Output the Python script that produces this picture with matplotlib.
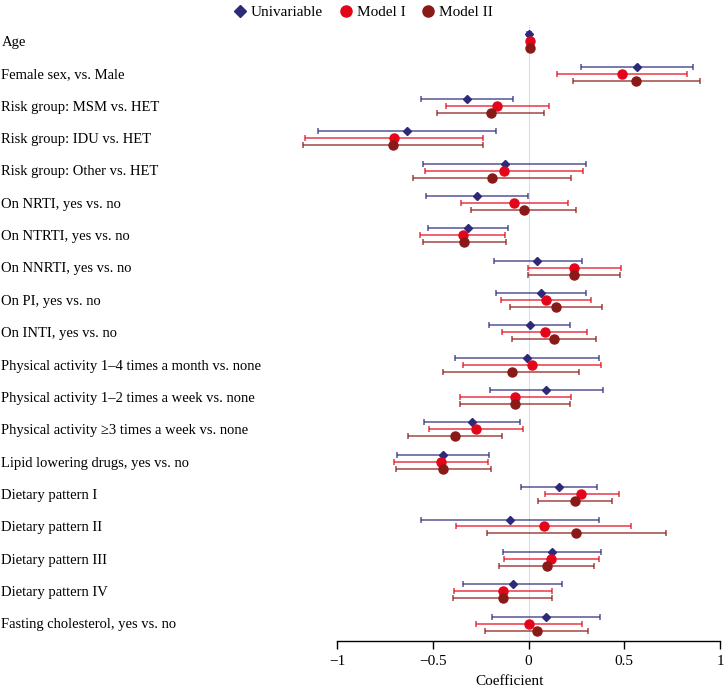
import numpy as np
import matplotlib.pyplot as plt
import matplotlib.transforms as mtransforms
from matplotlib.lines import Line2D

plt.rcParams['font.family'] = ['Liberation Serif', 'DejaVu Serif']

# row labels, top to bottom
labels = [
    "Age",
    "Female sex, vs. Male",
    "Risk group: MSM vs. HET",
    "Risk group: IDU vs. HET",
    "Risk group: Other vs. HET",
    "On NRTI, yes vs. no",
    "On NTRTI, yes vs. no",
    "On NNRTI, yes vs. no",
    "On PI, yes vs. no",
    "On INTI, yes vs. no",
    "Physical activity 1\u20134 times a month vs. none",
    "Physical activity 1\u20132 times a week vs. none",
    "Physical activity \u22653 times a week vs. none",
    "Lipid lowering drugs, yes vs. no",
    "Dietary pattern I",
    "Dietary pattern II",
    "Dietary pattern III",
    "Dietary pattern IV",
    "Fasting cholesterol, yes vs. no",
]

# univariable: estimate, lower, upper
uni_est = [0.00, 0.566, -0.324, -0.636, -0.122, -0.269, -0.319, 0.045, 0.063, 0.005,
           -0.007, 0.092, -0.298, -0.448, 0.158, -0.098, 0.124, -0.084, 0.090]
uni_lo = [-0.01, 0.274, -0.565, -1.100, -0.551, -0.535, -0.527, -0.183, -0.173, -0.206,
          -0.384, -0.202, -0.548, -0.687, -0.040, -0.561, -0.133, -0.345, -0.192]
uni_hi = [0.01, 0.861, -0.084, -0.169, 0.301, -0.002, -0.110, 0.277, 0.300, 0.218,
          0.368, 0.387, -0.047, -0.208, 0.357, 0.369, 0.380, 0.176, 0.375]

# model I
m1_est = [0.005, 0.486, -0.164, -0.706, -0.129, -0.075, -0.345, 0.239, 0.090, 0.084,
          0.019, -0.070, -0.276, -0.460, 0.275, 0.078, 0.118, -0.133, 0.000]
m1_lo = [-0.003, 0.146, -0.434, -1.170, -0.542, -0.356, -0.567, -0.002, -0.145, -0.138,
         -0.342, -0.361, -0.520, -0.703, 0.084, -0.380, -0.131, -0.391, -0.274]
m1_hi = [0.013, 0.826, 0.104, -0.241, 0.282, 0.207, -0.124, 0.481, 0.328, 0.303,
         0.378, 0.221, -0.030, -0.211, 0.471, 0.537, 0.368, 0.124, 0.277]

# model II
m2_est = [0.007, 0.561, -0.199, -0.710, -0.194, -0.026, -0.338, 0.239, 0.143, 0.131,
          -0.089, -0.070, -0.384, -0.445, 0.242, 0.247, 0.094, -0.136, 0.042]
m2_lo = [-0.001, 0.230, -0.478, -1.179, -0.605, -0.303, -0.554, -0.002, -0.098, -0.089,
         -0.445, -0.359, -0.628, -0.691, 0.047, -0.218, -0.157, -0.394, -0.227]
m2_hi = [0.015, 0.896, 0.078, -0.241, 0.221, 0.246, -0.117, 0.478, 0.385, 0.350,
         0.265, 0.218, -0.138, -0.195, 0.437, 0.716, 0.343, 0.120, 0.310]

xticks = [-1, -0.5, 0, 0.5, 1]
xticklabels = ["\u22121", "\u22120.5", "0", "0.5", "1"]

fig = plt.figure(figsize=(7.24, 6.91), dpi=100)
ax = fig.add_axes([299 / 724, 50.3 / 691, 421 / 724, 615.7 / 691])

rows = np.arange(len(labels))
off = 0.216

series = [
    ("Univariable", uni_est, uni_lo, uni_hi, "#2d2a7a", "D", 4.5, -off),
    ("Model I", m1_est, m1_lo, m1_hi, "#e3061b", "o", 6.5, 0.0),
    ("Model II", m2_est, m2_lo, m2_hi, "#8a1a17", "o", 6.5, off),
]

ax.axvline(0, color="#d8dcf0", lw=0.8, zorder=0)

handles = []
for name, est, lo, hi, col, mk, ms, dy in series:
    est = np.array(est)
    err = [est - np.array(lo), np.array(hi) - est]
    ax.errorbar(est, rows + dy, xerr=err, fmt="none", ecolor=col, alpha=0.8,
                elinewidth=1.1, capsize=2.5, capthick=1.1)
    ax.plot(est, rows + dy, mk, color=col, ms=ms, zorder=3)
    handles.append(Line2D([], [], ls="none", marker=mk, color=col,
                          ms=ms + 1.5, label=name))

ax.set_xlim(-1.2, 1.0)
ax.set_ylim(18.53, -0.5)
ax.set_yticks([])
for s in ["left", "top", "right"]:
    ax.spines[s].set_visible(False)
ax.spines["bottom"].set_bounds(-1, 1)
ax.spines["bottom"].set_linewidth(1.0)
ax.set_xticks(xticks)
ax.set_xticklabels(xticklabels, fontsize=11)
ax.tick_params(axis="x", length=6, width=1.0, pad=4)
ax.set_xlabel("Coefficient", fontsize=11, labelpad=5)

trans = mtransforms.blended_transform_factory(fig.transFigure, ax.transData)
for i, lab in enumerate(labels):
    ax.text(0.002, i + 0.04, lab, transform=trans, ha="left", va="center",
            fontsize=10.5)

fig.legend(handles=handles, loc="upper center", bbox_to_anchor=(0.5, 1.012),
           ncol=3, frameon=False, fontsize=11, handletextpad=0.1,
           columnspacing=0.9, handlelength=1.2)

fig.savefig("out.png", dpi=100)
